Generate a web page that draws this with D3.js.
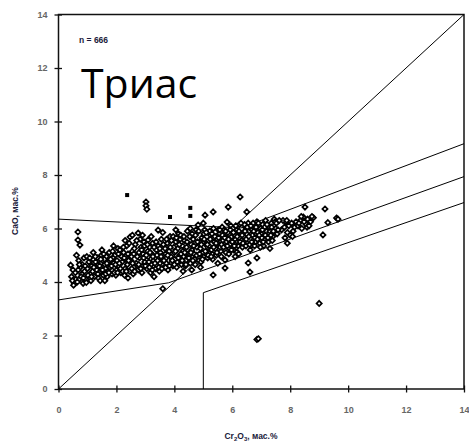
<!DOCTYPE html>
<html>
<head>
<meta charset="utf-8">
<script src="https://cdn.jsdelivr.net/npm/d3@7/dist/d3.min.js"></script>
<style>
  body { margin: 0; background: #fff; }
  svg { display: block; }
</style>
</head>
<body>
<svg id="chart" width="469" height="444"></svg>
<script>
// tick values
const xTicks = [0, 2, 4, 6, 8, 10, 12, 14];
const yTicks = [0, 2, 4, 6, 8, 10, 12, 14];

// boundary lines of the diagram (Cr2O3, CaO)
const diagLine = [[0, 0], [14, 14]];
const upperLine = [[0, 6.35], [6.3, 6.02], [14, 9.17]];
const middleLine = [[0, 3.33], [3.8, 3.97], [14, 7.94]];
const lowerLine = [[5, 0], [5, 3.6], [14, 6.97]];

// analyses, [Cr2O3, CaO]
const points = [
  [0.42,4.63],[0.5,4.45],[0.45,4.2],[0.55,3.95],[0.6,4.1],[0.48,4.05],[0.58,4.35],[0.62,5.0],[0.52,3.88],
  [0.67,5.87],[0.67,5.57],[0.74,5.38],[0.7,4.8],[0.75,4.55],[0.8,4.3],[0.72,4.1],[0.85,3.95],[0.82,4.65],[0.9,4.4],[0.88,4.9],[0.78,4.2],[0.68,4.45],
  [0.95,4.1],[1.0,4.5],[1.05,4.75],[1.1,4.3],[0.98,4.95],[1.15,4.6],[1.12,4.05],[1.2,4.85],[1.02,4.25],[1.18,4.4],
  [1.25,4.2],[1.3,4.55],[1.35,4.9],[1.4,4.35],[1.45,4.7],[1.28,4.75],[1.38,4.15],[1.48,5.0],[1.32,4.45],[1.42,4.6],
  [1.55,4.25],[1.6,4.65],[1.65,4.95],[1.7,4.4],[1.75,5.1],[1.58,4.85],[1.68,4.2],[1.78,4.55],[1.62,4.5],[1.72,4.75],
  [1.85,4.3],[1.9,4.7],[1.95,5.0],[2.0,4.45],[2.05,5.25],[1.88,4.9],[1.98,4.25],[2.08,4.6],[1.92,4.55],[2.02,4.8],
  [2.15,4.35],[2.2,4.75],[2.25,5.1],[2.3,4.5],[2.35,5.35],[2.18,4.95],[2.28,4.25],[2.38,4.65],[2.12,5.2],[2.32,4.85],
  [2.45,4.4],[2.47,5.68],[2.5,4.8],[2.55,5.15],[2.6,4.55],[2.65,5.4],[2.48,5.0],[2.58,4.3],[2.68,4.7],[2.52,4.95],[2.62,5.25],
  [2.75,5.83],[2.75,4.45],[2.8,4.9],[2.85,5.3],[2.9,4.6],[2.95,5.5],[2.78,5.1],[2.88,4.35],[2.98,4.75],[2.82,5.6],[2.92,5.05],
  [3.09,5.57],[3.05,4.5],[3.1,4.95],[3.15,5.3],[3.2,4.65],[3.25,5.45],[3.08,5.15],[3.18,4.35],[3.28,4.8],[3.12,4.75],[3.22,5.05],
  [3.35,4.5],[3.4,5.0],[3.44,5.94],[3.45,5.35],[3.5,4.7],[3.55,5.6],[3.38,5.2],[3.48,4.4],[3.58,4.9],[3.42,4.8],[3.52,5.1],[3.6,3.75],
  [3.65,4.55],[3.7,5.05],[3.75,5.45],[3.78,4.45],[3.8,4.8],[3.85,5.7],[3.68,5.25],[3.88,4.95],[3.72,4.7],[3.82,5.15],[3.9,5.55],
  [3.95,4.6],[4.0,5.1],[4.05,5.5],[4.1,4.75],[4.15,5.8],[3.98,5.3],[4.08,4.55],[4.18,5.0],[4.02,4.85],[4.12,5.25],[4.2,5.6],
  [4.25,4.65],[4.3,5.15],[4.35,5.55],[4.4,4.8],[4.45,5.9],[4.28,5.35],[4.38,4.6],[4.48,5.05],[4.32,4.95],[4.42,5.3],[4.22,5.75],
  [4.55,4.7],[4.6,5.2],[4.65,5.6],[4.7,4.85],[4.75,5.95],[4.58,5.4],[4.68,5.05],[4.78,5.3],[4.52,5.0],[4.62,5.8],[4.72,4.65],
  [4.82,6.13],[4.85,4.8],[4.9,5.25],[4.95,5.65],[5.0,4.95],[5.05,5.95],[4.88,5.5],[4.98,5.1],[5.08,5.4],[4.92,4.75],[5.02,5.8],
  [5.15,4.9],[5.2,5.35],[5.25,5.75],[5.3,5.05],[5.35,6.0],[5.18,5.55],[5.28,5.2],[5.38,5.5],[5.12,5.15],[5.22,5.9],[5.34,4.26],[5.32,4.85],
  [5.45,5.0],[5.5,5.45],[5.55,5.8],[5.6,5.15],[5.65,6.05],[5.48,5.6],[5.58,5.3],[5.68,5.55],[5.42,5.25],[5.52,5.95],[5.62,4.95],
  [5.75,4.52],[5.75,4.82],[5.78,5.1],[5.8,5.5],[5.85,5.85],[5.9,5.25],[5.95,6.1],[5.82,5.65],[5.92,5.4],[5.98,5.7],[5.72,5.95],[5.88,5.05],
  [6.05,5.2],[6.1,5.6],[6.15,5.95],[6.16,5.12],[6.2,5.35],[6.25,6.15],[6.08,5.75],[6.18,5.5],[6.28,5.8],[6.02,6.0],[6.22,5.05],
  [6.35,5.3],[6.4,5.7],[6.45,6.05],[6.5,5.45],[6.55,6.2],[6.38,5.85],[6.48,5.6],[6.58,5.9],[6.32,5.55],[6.42,6.15],[6.55,4.71],[6.61,4.37],
  [6.65,5.35],[6.7,5.75],[6.75,6.1],[6.8,5.5],[6.85,6.25],[6.68,5.95],[6.78,5.65],[6.88,5.85],[6.62,5.2],[6.85,4.9],[6.72,6.2],
  [6.95,5.45],[7.0,5.8],[7.05,6.15],[7.1,5.6],[7.15,6.3],[6.98,6.0],[7.08,5.35],[7.18,5.9],[7.02,5.65],[7.12,6.05],
  [7.25,5.5],[7.3,5.9],[7.35,6.2],[7.4,5.7],[7.45,6.35],[7.28,6.05],[7.38,5.55],[7.5,6.0],[7.55,5.8],[7.48,6.25],
  [7.7,5.95],[7.82,5.65],[7.85,6.24],[7.9,5.85],[7.95,6.1],[8.0,5.75],[8.05,6.2],[8.1,5.9],[8.15,6.05],[7.75,6.3],
  [8.27,6.1],[8.35,6.3],[8.4,6.0],[8.45,6.43],[8.55,6.15],[8.6,6.35],[8.7,6.25],[8.8,6.4],[8.51,6.8],[8.58,6.05],
  [9.13,5.76],[9.2,6.73],[9.3,6.22],[9.6,6.39],[9.65,6.35],
  [3.02,6.99],[3.02,6.85],[3.05,6.72],[5.06,6.5],[5.0,6.2],[5.34,6.62],[5.86,6.8],[5.82,6.24],[6.27,7.18],[6.5,6.62],
  [6.85,1.85],[6.9,1.88],[9.0,3.2],
  [0.65,4.0],[0.72,4.65],[0.86,4.15],[0.92,4.6],[0.96,3.98],[1.08,4.9],[1.14,4.2],[1.22,4.55],[1.27,4.95],[1.36,4.3],
  [1.44,4.05],[1.46,4.85],[1.52,4.45],[1.56,5.05],[1.63,4.3],[1.67,4.7],[1.74,4.35],[1.8,4.85],[1.83,4.6],[1.87,5.15],
  [1.93,4.35],[1.97,4.65],[2.04,4.35],[2.07,5.05],[2.1,4.7],[2.14,4.5],[2.22,4.4],[2.24,5.3],[2.27,4.9],[2.34,4.4],
  [2.4,5.05],[2.42,4.8],[2.44,5.45],[2.53,4.5],[2.56,4.7],[2.6,5.05],[2.63,4.4],[2.7,5.55],[2.72,4.95],[2.77,4.65],
  [2.84,4.5],[2.87,5.2],[2.94,4.9],[2.97,5.35],[3.0,4.6],[3.03,5.0],[3.07,5.4],[3.14,4.55],[3.16,5.1],[3.24,4.45],
  [3.26,4.95],[3.3,5.3],[3.33,4.7],[3.37,5.5],[3.46,4.55],[3.5,5.25],[3.54,4.95],[3.57,4.5],[3.62,5.4],[3.64,4.8],
  [3.7,4.55],[3.73,5.6],[3.77,5.0],[3.83,4.6],[3.86,5.3],[3.93,4.8],[3.96,5.7],[4.0,4.65],[4.04,5.15],[4.07,5.65],
  [4.14,4.9],[4.17,5.4],[4.23,5.05],[4.27,4.8],[4.33,5.7],[4.36,5.1],[4.4,4.65],[4.44,5.5],[4.5,4.9],[4.53,5.7],
  [4.57,5.1],[4.64,4.8],[4.67,5.35],[4.73,5.75],[4.77,5.0],[4.8,5.5],[4.84,5.9],[4.87,5.05],[4.93,5.4],[4.97,4.85],
  [5.03,5.6],[5.07,5.15],[5.1,5.85],[5.14,5.4],[5.17,5.0],[5.24,5.6],[5.27,4.95],[5.3,5.8],[5.36,5.3],[5.4,5.7],
  [5.44,5.45],[5.47,5.1],[5.53,5.65],[5.57,5.95],[5.63,5.4],[5.66,5.75],[5.7,5.3],[5.74,5.65],[5.77,5.9],[5.83,5.35],
  [5.87,5.6],[5.93,5.95],[5.97,5.2],[6.0,5.5],[6.04,5.85],[6.07,5.35],[6.12,6.1],[6.17,5.7],[6.23,5.9],[6.27,5.5],
  [6.3,6.2],[6.34,5.75],[6.37,5.45],[6.44,5.9],[6.47,5.35],[6.52,6.05],[6.57,5.7],[6.6,5.4],[6.64,6.1],[6.67,5.5],
  [6.74,5.9],[6.77,5.35],[6.82,6.05],[6.87,5.6],[6.9,6.2],[6.93,5.75],[6.97,5.3],[7.04,5.95],[7.07,5.5],[7.14,5.75],
  [7.2,6.15],[7.23,5.65],[7.33,5.75],[7.36,6.05],[7.42,5.9],[7.52,6.2],[7.58,5.95],[7.62,6.3],[7.8,6.05],[7.88,6.3],
  [8.08,5.7],[8.2,6.25],[8.3,6.2],[8.38,6.45],[8.48,6.25],[8.65,6.1],[8.75,6.45],
  [2.3,5.55],[2.55,5.75],[2.9,5.75],[3.2,5.7],[3.6,5.85],[1.9,5.35],[1.5,5.2],[1.2,5.1],[4.05,5.95],[4.55,6.0],
  [1.6,4.05],[2.4,4.15],[3.3,4.2],[4.3,4.4],[4.9,4.55],[5.5,4.7],[4.6,4.45],[6.1,4.95],[7.3,5.25],[7.9,5.45]
];

// points shown as small filled squares
const squarePts = [[2.37,7.25],[3.85,6.43],[4.55,6.77],[4.55,6.47]];

const nLabel = "n = 666";
const periodLabel = "Триас";
const xTitle = ["Cr", "2", "O", "3", ", мас.%"];
const yTitle = "CaO, мас.%";

const svg = d3.select('#chart');

const x = d3.scaleLinear().domain([0, 14]).range([58.5, 464]);
const y = d3.scaleLinear().domain([0, 14]).range([389, 14.5]);

// frame
svg.append('rect')
  .attr('x', x(0)).attr('y', y(14))
  .attr('width', x(14) - x(0)).attr('height', y(0) - y(14))
  .attr('fill', 'none').attr('stroke', '#111').attr('stroke-width', 1.5);

const labelFont = 'Liberation Sans, Arial, sans-serif';

const xAxis = svg.append('g')
  .attr('transform', `translate(0,${y(0)})`)
  .call(d3.axisBottom(x).tickValues(xTicks).tickFormat(d3.format('d')).tickSizeOuter(0));
xAxis.select('.domain').remove();
xAxis.selectAll('.tick line').attr('y1', -3.5).attr('y2', 3.5).attr('stroke', '#111').attr('stroke-width', 1.3);
xAxis.selectAll('.tick text').attr('y', 18).attr('fill', '#666')
  .style('font', `bold 9px ${labelFont}`);

const yAxis = svg.append('g')
  .attr('transform', `translate(${x(0)},0)`)
  .call(d3.axisLeft(y).tickValues(yTicks).tickFormat(d3.format('d')).tickSizeOuter(0));
yAxis.select('.domain').remove();
yAxis.selectAll('.tick line').attr('x1', -4).attr('x2', 3.5).attr('stroke', '#111').attr('stroke-width', 1.3);
yAxis.selectAll('.tick text').attr('x', -11).attr('fill', '#666')
  .style('font', `bold 9px ${labelFont}`);

// boundary lines
const line = d3.line().x(d => x(d[0])).y(d => y(d[1]));
svg.selectAll('path.bound')
  .data([diagLine, upperLine, middleLine, lowerLine])
  .join('path')
  .attr('class', 'bound')
  .attr('d', line)
  .attr('fill', 'none')
  .attr('stroke', '#000')
  .attr('stroke-width', 1);

// points
svg.append('g').selectAll('path')
  .data(points)
  .join('path')
  .attr('d', 'M0,-2.6L2.6,0L0,2.6L-2.6,0Z')
  .attr('transform', d => `translate(${x(d[0])},${y(d[1])})`)
  .attr('fill', '#fff')
  .attr('stroke', '#000')
  .attr('stroke-width', 1.7);

svg.append('g').selectAll('rect')
  .data(squarePts)
  .join('rect')
  .attr('x', d => x(d[0]) - 2).attr('y', d => y(d[1]) - 2)
  .attr('width', 4).attr('height', 4)
  .attr('fill', '#000');

// labels
svg.append('text')
  .attr('x', 79).attr('y', 43)
  .attr('fill', '#1a1a3a')
  .style('font', `bold 8.5px ${labelFont}`)
  .text(nLabel);

svg.append('text')
  .attr('x', 81).attr('y', 98)
  .attr('fill', '#000')
  .style('font', '41px "Open Sans", "Noto Sans", sans-serif')
  .text(periodLabel);

const xt = svg.append('text')
  .attr('x', 251).attr('y', 439)
  .attr('text-anchor', 'middle')
  .attr('fill', '#1a1a3a')
  .style('font', `bold 8.5px ${labelFont}`);
xTitle.forEach((s, i) => {
  const sub = s === '2' || s === '3';
  xt.append('tspan')
    .attr('baseline-shift', sub ? '-25%' : null)
    .style('font-size', sub ? '6px' : null)
    .text(s);
});

svg.append('text')
  .attr('transform', 'translate(18,211) rotate(-90)')
  .attr('text-anchor', 'middle')
  .attr('fill', '#1a1a3a')
  .style('font', `bold 8.5px ${labelFont}`)
  .text(yTitle);
</script>
</body>
</html>
